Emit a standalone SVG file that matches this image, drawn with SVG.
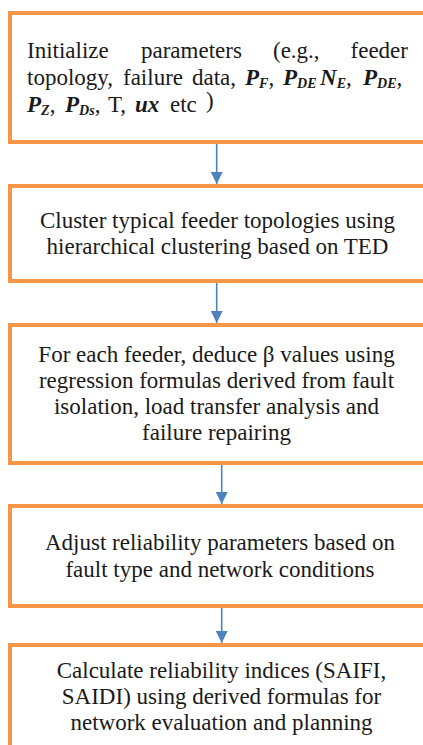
<svg xmlns="http://www.w3.org/2000/svg" width="423" height="745" viewBox="0 0 423 745">
  <style>
    .box { fill: #ffffff; stroke: #F79646; stroke-width: 4; }
    .t { font-family: 'Liberation Serif', 'Times New Roman', 'DejaVu Serif', serif; font-size: 23px; fill: #1a1a1a; }
    .c { text-anchor: middle; }
    .m { font-weight: bold; font-style: italic; }
    .s { font-size: 14px; font-weight: bold; font-style: italic; }
    .conn { stroke: #4F81BD; stroke-width: 1.6; fill: none; marker-end: url(#ah); }
  </style>
  <defs>
    <marker id="ah" markerUnits="userSpaceOnUse" markerWidth="12" markerHeight="12" refX="12" refY="6" orient="auto">
      <path d="M0,0 L12,6 L0,12 z" fill="#4F81BD"/>
    </marker>
  </defs>
  <rect width="423" height="745" fill="#ffffff"/>

  <g id="connectors">
    <line class="conn" x1="216.7" y1="144" x2="216.7" y2="184"/>
    <line class="conn" x1="216.7" y1="283" x2="216.7" y2="323"/>
    <line class="conn" x1="221.7" y1="465" x2="221.7" y2="504"/>
    <line class="conn" x1="221.7" y1="608" x2="221.7" y2="643"/>
  </g>

  <g id="node1">
    <rect class="box" x="10" y="13" width="430" height="129"/>
    <text class="t" y="58"><tspan x="27">Initialize</tspan><tspan x="141">parameters</tspan><tspan x="273">(e.g.,</tspan><tspan x="408" text-anchor="end">feeder</tspan></text>
    <text class="t" y="85"><tspan x="27">topology,</tspan><tspan x="123">failure</tspan><tspan x="192">data,</tspan><tspan x="245" class="m">P</tspan><tspan class="s" dy="3">F</tspan><tspan dy="-3">,</tspan><tspan x="283" class="m">P</tspan><tspan class="s" dy="3">DE</tspan><tspan x="320" dy="-3" class="m">N</tspan><tspan class="s" dy="3">E</tspan><tspan dy="-3">,</tspan><tspan x="363" class="m">P</tspan><tspan class="s" dy="3">DE</tspan><tspan dy="-3">,</tspan></text>
    <text class="t" y="112"><tspan x="27" class="m">P</tspan><tspan class="s" dy="3">Z</tspan><tspan dy="-3">,</tspan><tspan x="65" class="m">P</tspan><tspan class="s" dy="3">Ds</tspan><tspan dy="-3">,</tspan><tspan x="108">T,</tspan><tspan x="135" class="m">ux</tspan><tspan x="170">etc</tspan></text>
    <text class="t" x="206" y="108" font-size="13">)</text>
  </g>

  <g id="node2">
    <rect class="box" x="10" y="186" width="430" height="95"/>
    <text class="t c" x="217.5" y="228">Cluster typical feeder topologies using</text>
    <text class="t c" x="217.5" y="254">hierarchical clustering based on TED</text>
  </g>

  <g id="node3">
    <rect class="box" x="10" y="325" width="430" height="138"/>
    <text class="t c" x="216.5" y="362">For each feeder, deduce β values using</text>
    <text class="t c" x="216.5" y="388">regression formulas derived from fault</text>
    <text class="t c" x="216.5" y="414">isolation, load transfer analysis and</text>
    <text class="t c" x="216.5" y="440">failure repairing</text>
  </g>

  <g id="node4">
    <rect class="box" x="10" y="506" width="430" height="100"/>
    <text class="t c" x="220" y="550">Adjust reliability parameters based on</text>
    <text class="t c" x="220" y="577">fault type and network conditions</text>
  </g>

  <g id="node5">
    <rect class="box" x="10" y="645" width="430" height="120"/>
    <text class="t c" x="221.5" y="678">Calculate reliability indices (SAIFI,</text>
    <text class="t c" x="221.5" y="704">SAIDI) using derived formulas for</text>
    <text class="t c" x="221.5" y="730">network evaluation and planning</text>
  </g>
</svg>
